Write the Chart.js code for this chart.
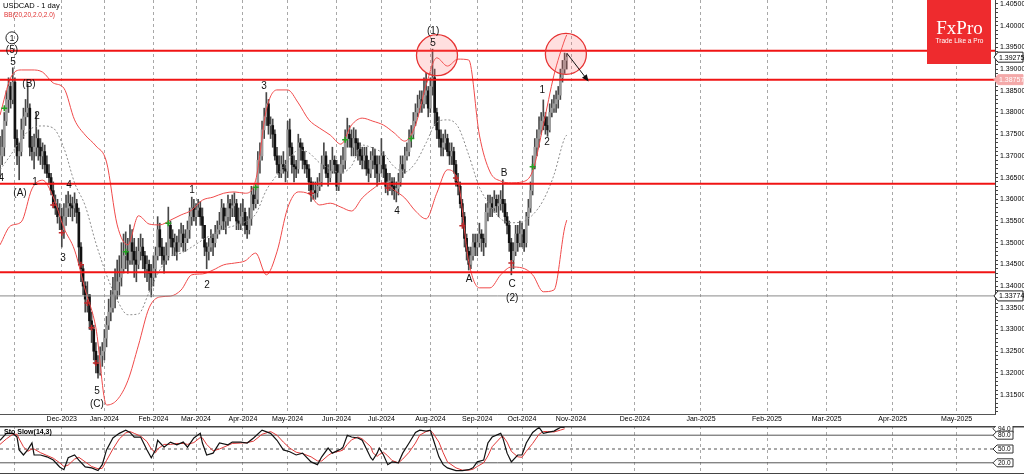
<!DOCTYPE html>
<html>
<head>
<meta charset="utf-8">
<script src="https://cdn.jsdelivr.net/npm/chart.js@4.4.1/dist/chart.umd.min.js"></script>
<style>
  body { margin: 0; background: #fff; }
  #wrap { position: relative; width: 1024px; height: 474px; overflow: hidden; background: #fff; }
  #mainBox { position: absolute; left: 0; top: 0; width: 1024px; height: 426px; }
  #stochBox { position: absolute; left: 0; top: 426px; width: 1024px; height: 48px; }
</style>
</head>
<body>
<div id="wrap">
  <div id="mainBox"><canvas id="mainChart"></canvas></div>
  <div id="stochBox"><canvas id="stochChart"></canvas></div>
</div>
<script>
// USDCAD daily bars, one value per trading day (late Oct 2023 .. end Oct 2024)
const firstOpen = 1.3680;
const closes = [
    1.3700, 1.3720, 1.3780, 1.3830, 1.3860, 1.3830, 1.3870,
    1.3740, 1.3700, 1.3710, 1.3760, 1.3790, 1.3800, 1.3810, 1.3720, 1.3710, 1.3720, 1.3740, 1.3720, 1.3700, 1.3710, 1.3680, 1.3660, 1.3650, 1.3620, 1.3590, 1.3580, 1.3560, 1.3560,
    1.3530, 1.3560, 1.3580, 1.3590, 1.3585, 1.3580, 1.3590, 1.3570, 1.3490, 1.3440, 1.3400, 1.3370, 1.3380, 1.3320, 1.3300, 1.3250, 1.3220, 1.3200, 1.3240, 1.3250,
    1.3280, 1.3310, 1.3340, 1.3350, 1.3380, 1.3390, 1.3410, 1.3420, 1.3440, 1.3470, 1.3480, 1.3460, 1.3500, 1.3480, 1.3460, 1.3450, 1.3480, 1.3490, 1.3470, 1.3440, 1.3450, 1.3430, 1.3420,
    1.3440, 1.3470, 1.3530, 1.3490, 1.3470, 1.3460, 1.3470, 1.3540, 1.3510, 1.3490, 1.3500, 1.3480, 1.3500, 1.3520, 1.3500, 1.3510, 1.3530, 1.3560, 1.3580, 1.3560, 1.3575,
    1.3580, 1.3560, 1.3540, 1.3490, 1.3480, 1.3490, 1.3510, 1.3500, 1.3520, 1.3530, 1.3540, 1.3580, 1.3550, 1.3560, 1.3590, 1.3580, 1.3585, 1.3590, 1.3550, 1.3545, 1.3560,
    1.3570, 1.3540, 1.3530, 1.3555, 1.3610, 1.3590, 1.3600, 1.3690, 1.3700, 1.3760, 1.3790, 1.3820, 1.3770, 1.3770, 1.3750, 1.3700, 1.3680, 1.3660, 1.3680, 1.3670, 1.3665, 1.3760,
    1.3720, 1.3680, 1.3675, 1.3670, 1.3730, 1.3720, 1.3690, 1.3680, 1.3670, 1.3640, 1.3610, 1.3620, 1.3615, 1.3630, 1.3640, 1.3680, 1.3700, 1.3660, 1.3650, 1.3665, 1.3690, 1.3680, 1.3630,
    1.3660, 1.3680, 1.3690, 1.3740, 1.3750, 1.3740, 1.3720, 1.3740, 1.3730, 1.3715, 1.3700, 1.3690, 1.3700, 1.3670, 1.3660, 1.3690, 1.3700, 1.3680, 1.3660, 1.3680,
    1.3700, 1.3670, 1.3630, 1.3640, 1.3640, 1.3630, 1.3620, 1.3625, 1.3640, 1.3680, 1.3670, 1.3700, 1.3710, 1.3740, 1.3750, 1.3780, 1.3800, 1.3810, 1.3830, 1.3820, 1.3840, 1.3850, 1.3810,
    1.3860, 1.3880, 1.3800, 1.3760, 1.3740, 1.3720, 1.3730, 1.3740, 1.3710, 1.3700, 1.3710, 1.3680, 1.3640, 1.3630, 1.3590, 1.3560, 1.3510, 1.3480, 1.3450, 1.3470, 1.3500, 1.3490,
    1.3500, 1.3520, 1.3510, 1.3500, 1.3570, 1.3580, 1.3590, 1.3580, 1.3600, 1.3585, 1.3590, 1.3600, 1.3590, 1.3560, 1.3540, 1.3500, 1.3460, 1.3480, 1.3520, 1.3500, 1.3520,
    1.3530, 1.3500, 1.3560, 1.3580, 1.3620, 1.3680, 1.3720, 1.3740, 1.3760, 1.3780, 1.3790, 1.3770, 1.3760, 1.3800, 1.3810, 1.3820, 1.3830, 1.3840, 1.3880, 1.3900, 1.3920, 1.39275
];
const highs = [
    1.3745, 1.3760, 1.3800, 1.3850, 1.3880, 1.3870, 1.3903,
    1.3880, 1.3760, 1.3730, 1.3785, 1.3810, 1.3830, 1.3866, 1.3820, 1.3745, 1.3750, 1.3800, 1.3760, 1.3740, 1.3730, 1.3725, 1.3700, 1.3680, 1.3660, 1.3640, 1.3610, 1.3600, 1.3590,
    1.3580, 1.3590, 1.3610, 1.3618, 1.3610, 1.3605, 1.3615, 1.3600, 1.3580, 1.3500, 1.3450, 1.3410, 1.3410, 1.3380, 1.3340, 1.3310, 1.3270, 1.3240, 1.3260, 1.3270,
    1.3300, 1.3330, 1.3370, 1.3390, 1.3420, 1.3440, 1.3460, 1.3470, 1.3500, 1.3520, 1.3525, 1.3510, 1.3541, 1.3530, 1.3510, 1.3490, 1.3510, 1.3520, 1.3510, 1.3480, 1.3470, 1.3460, 1.3450,
    1.3470, 1.3490, 1.3560, 1.3545, 1.3510, 1.3490, 1.3500, 1.3582, 1.3550, 1.3530, 1.3520, 1.3515, 1.3530, 1.3545, 1.3540, 1.3530, 1.3550, 1.3580, 1.3605, 1.3600, 1.3590,
    1.3600, 1.3595, 1.3580, 1.3540, 1.3500, 1.3510, 1.3530, 1.3520, 1.3540, 1.3550, 1.3570, 1.3600, 1.3590, 1.3580, 1.3610, 1.3600, 1.3610, 1.3615, 1.3600, 1.3580, 1.3590,
    1.3600, 1.3580, 1.3560, 1.3580, 1.3630, 1.3625, 1.3630, 1.3710, 1.3730, 1.3780, 1.3810, 1.3846, 1.3830, 1.3790, 1.3785, 1.3760, 1.3720, 1.3700, 1.3700, 1.3710, 1.3690, 1.3780,
    1.3785, 1.3730, 1.3700, 1.3690, 1.3750, 1.3740, 1.3730, 1.3710, 1.3690, 1.3680, 1.3650, 1.3640, 1.3640, 1.3650, 1.3660, 1.3700, 1.3730, 1.3710, 1.3680, 1.3690, 1.3720, 1.3700, 1.3690,
    1.3680, 1.3700, 1.3720, 1.3760, 1.3787, 1.3770, 1.3760, 1.3765, 1.3760, 1.3740, 1.3730, 1.3720, 1.3720, 1.3720, 1.3690, 1.3710, 1.3720, 1.3715, 1.3700, 1.3700,
    1.3740, 1.3710, 1.3680, 1.3660, 1.3660, 1.3650, 1.3650, 1.3640, 1.3660, 1.3700, 1.3700, 1.3720, 1.3730, 1.3760, 1.3770, 1.3800, 1.3820, 1.3840, 1.3850, 1.3850, 1.3880, 1.3890, 1.3860,
    1.3880, 1.3946, 1.3900, 1.3810, 1.3790, 1.3760, 1.3750, 1.3760, 1.3750, 1.3730, 1.3730, 1.3720, 1.3690, 1.3660, 1.3640, 1.3600, 1.3570, 1.3520, 1.3490, 1.3490, 1.3520, 1.3520,
    1.3520, 1.3545, 1.3530, 1.3520, 1.3590, 1.3610, 1.3610, 1.3605, 1.3620, 1.3610, 1.3610, 1.3620, 1.3645, 1.3600, 1.3570, 1.3550, 1.3510, 1.3500, 1.3540, 1.3540, 1.3550,
    1.3545, 1.3530, 1.3570, 1.3600, 1.3640, 1.3700, 1.3740, 1.3760, 1.3790, 1.3800, 1.3829, 1.3800, 1.3790, 1.3820, 1.3830, 1.3840, 1.3850, 1.3860, 1.3900, 1.3920, 1.3937, 1.3935
];
const lows = [
    1.3650, 1.3680, 1.3700, 1.3770, 1.3800, 1.3810, 1.3820,
    1.3720, 1.3680, 1.3645, 1.3700, 1.3740, 1.3770, 1.3790, 1.3700, 1.3690, 1.3670, 1.3700, 1.3690, 1.3680, 1.3670, 1.3660, 1.3650, 1.3635, 1.3610, 1.3580, 1.3565, 1.3545, 1.3530,
    1.3490, 1.3510, 1.3540, 1.3560, 1.3560, 1.3550, 1.3560, 1.3545, 1.3450, 1.3410, 1.3380, 1.3340, 1.3340, 1.3300, 1.3270, 1.3230, 1.3200, 1.3188, 1.3195, 1.3215,
    1.3230, 1.3260, 1.3300, 1.3320, 1.3340, 1.3350, 1.3370, 1.3380, 1.3400, 1.3430, 1.3440, 1.3430, 1.3450, 1.3450, 1.3420, 1.3410, 1.3440, 1.3460, 1.3440, 1.3420, 1.3410, 1.3390, 1.3375,
    1.3400, 1.3420, 1.3460, 1.3470, 1.3450, 1.3430, 1.3450, 1.3460, 1.3490, 1.3470, 1.3470, 1.3460, 1.3480, 1.3490, 1.3480, 1.3480, 1.3500, 1.3510, 1.3540, 1.3550, 1.3540,
    1.3560, 1.3540, 1.3510, 1.3470, 1.3440, 1.3460, 1.3480, 1.3470, 1.3490, 1.3510, 1.3520, 1.3530, 1.3530, 1.3520, 1.3540, 1.3550, 1.3560, 1.3560, 1.3530, 1.3530, 1.3530,
    1.3540, 1.3520, 1.3510, 1.3520, 1.3540, 1.3575, 1.3580, 1.3590, 1.3660, 1.3690, 1.3740, 1.3770, 1.3750, 1.3740, 1.3720, 1.3690, 1.3660, 1.3650, 1.3650, 1.3660, 1.3640, 1.3650,
    1.3700, 1.3660, 1.3640, 1.3650, 1.3660, 1.3690, 1.3670, 1.3660, 1.3650, 1.3620, 1.3595, 1.3600, 1.3600, 1.3605, 1.3620, 1.3630, 1.3670, 1.3650, 1.3630, 1.3640, 1.3660, 1.3660, 1.3620,
    1.3620, 1.3640, 1.3660, 1.3670, 1.3720, 1.3720, 1.3700, 1.3700, 1.3700, 1.3690, 1.3680, 1.3670, 1.3670, 1.3655, 1.3640, 1.3650, 1.3670, 1.3650, 1.3630, 1.3640,
    1.3660, 1.3650, 1.3615, 1.3610, 1.3620, 1.3610, 1.3600, 1.3594, 1.3610, 1.3630, 1.3650, 1.3660, 1.3690, 1.3700, 1.3720, 1.3740, 1.3770, 1.3790, 1.3800, 1.3800, 1.3810, 1.3820, 1.3790,
    1.3800, 1.3840, 1.3770, 1.3740, 1.3720, 1.3700, 1.3700, 1.3715, 1.3700, 1.3680, 1.3680, 1.3660, 1.3630, 1.3610, 1.3580, 1.3540, 1.3490, 1.3460, 1.3437, 1.3440, 1.3460, 1.3470,
    1.3470, 1.3490, 1.3480, 1.3470, 1.3490, 1.3550, 1.3560, 1.3560, 1.3570, 1.3570, 1.3560, 1.3575, 1.3570, 1.3545, 1.3520, 1.3480, 1.3426, 1.3440, 1.3470, 1.3480, 1.3490,
    1.3490, 1.3480, 1.3490, 1.3540, 1.3570, 1.3610, 1.3670, 1.3700, 1.3720, 1.3750, 1.3760, 1.3750, 1.3745, 1.3755, 1.3790, 1.3800, 1.3800, 1.3810, 1.3830, 1.3870, 1.3890, 1.3900
];

// month grid (bar index where each month starts) and labels
const monthTicks = [7, 29, 49, 72, 92, 114, 135, 158, 179, 202, 224, 245, 268, 298, 329, 360, 388, 419, 449];
const monthLabels = ['', 'Dec-2023', 'Jan-2024', 'Feb-2024', 'Mar-2024', 'Apr-2024', 'May-2024', 'Jun-2024', 'Jul-2024', 'Aug-2024', 'Sep-2024', 'Oct-2024', 'Nov-2024', 'Dec-2024', 'Jan-2025', 'Feb-2025', 'Mar-2025', 'Apr-2025', 'May-2025'];

// Bollinger bands read every 5 bars
const bbIndex = [0, 5, 10, 15, 20, 25, 30, 35, 40, 45, 50, 55, 60, 65, 70, 75, 80, 85, 90, 95, 100, 105, 110, 115, 120, 125, 130, 135, 140, 145, 150, 155, 160, 165, 170, 175, 180, 185, 190, 195, 200, 205, 210, 215, 220, 225, 230, 235, 240, 245, 250, 255, 260, 265, 266];
const bbUpper = [1.3794, 1.3880, 1.3898, 1.3898, 1.3893, 1.3868, 1.3856, 1.3783, 1.3748, 1.3723,
    1.3686, 1.3541, 1.3495, 1.3562, 1.3543, 1.3541, 1.3552, 1.3564, 1.3575, 1.3598,
    1.3605, 1.3614, 1.3617, 1.3614, 1.3644, 1.3806, 1.3852, 1.3852, 1.3822, 1.3783,
    1.3764, 1.3748, 1.3727, 1.3771, 1.3787, 1.3780, 1.3771, 1.3753, 1.3734, 1.3771,
    1.3863, 1.3926, 1.3907, 1.3923, 1.3921, 1.3748, 1.3663, 1.3642, 1.3638, 1.3640,
    1.3665, 1.3771, 1.3886, 1.3967, 1.3979];
const bbMiddle = [1.3668, 1.3702, 1.3739, 1.3764, 1.3769, 1.3764, 1.3718, 1.3638, 1.3585, 1.3499,
    1.3426, 1.3368, 1.3334, 1.3336, 1.3386, 1.3437, 1.3469, 1.3476, 1.3490, 1.3506,
    1.3520, 1.3532, 1.3539, 1.3548, 1.3566, 1.3621, 1.3656, 1.3686, 1.3714, 1.3707,
    1.3684, 1.3670, 1.3661, 1.3677, 1.3725, 1.3718, 1.3705, 1.3675, 1.3663, 1.3684,
    1.3730, 1.3778, 1.3783, 1.3767, 1.3702, 1.3628, 1.3587, 1.3555, 1.3546, 1.3548,
    1.3564, 1.3598, 1.3656, 1.3741, 1.3748];
const bbLower = [1.3495, 1.3539, 1.3548, 1.3624, 1.3644, 1.3605, 1.3534, 1.3483, 1.3391, 1.3304,
    1.3126, 1.3138, 1.3182, 1.3264, 1.3350, 1.3375, 1.3377, 1.3391, 1.3426, 1.3428,
    1.3437, 1.3449, 1.3453, 1.3458, 1.3476, 1.3426, 1.3479, 1.3580, 1.3617, 1.3612,
    1.3587, 1.3591, 1.3582, 1.3573, 1.3603, 1.3624, 1.3638, 1.3621, 1.3603, 1.3573,
    1.3555, 1.3614, 1.3668, 1.3640, 1.3456, 1.3396, 1.3396, 1.3426, 1.3444, 1.3442,
    1.3426, 1.3387, 1.3391, 1.3534, 1.3552];

// horizontal levels
const redLevels = [1.3942, 1.38757, 1.3636, 1.3432];
const greyLevel = 1.33774;

// band-cross markers (bar index, price)
const upMarkIdx = [2, 59, 79, 120, 162, 193, 250];
const upMarkPrice = [1.3810, 1.3479, 1.3545, 1.3628, 1.3737, 1.3740, 1.3675];
const downMarkIdx = [25, 29, 38, 41, 43, 45, 146, 182, 214, 217, 240];
const downMarkPrice = [1.3587, 1.3523, 1.3449, 1.3361, 1.3304, 1.3223, 1.3614, 1.3626, 1.3649, 1.3539, 1.3453];

// Elliott wave labels
const waveText = ['(5)', '5', '(B)', '2', '(A)', '1', '4', '4', '3', '5', '(C)', '1', '2', '3', '4', '(1)', '5', 'A', 'B', 'C', '(2)', '1', '2'];
const waveIdx = [5.6, 6.1, 13.6, 17.4, 9.4, 16.4, 0.6, 32.4, 29.6, 45.5, 45.5, 90.1, 97.2, 123.9, 186.4, 203.3, 203.3, 220.2, 236.6, 240.4, 240.4, 254.5, 256.8];
const wavePrice = [1.3944, 1.3916, 1.3866, 1.3792, 1.3615, 1.3640, 1.3649, 1.3633, 1.3465, 1.3158, 1.3128, 1.3621, 1.3403, 1.3861, 1.3573, 1.3988, 1.3960, 1.3416, 1.3661, 1.3405, 1.3373, 1.3852, 1.3732];
const circledLabel = { text: '1', idx: 5.6, price: 1.3972 };

// highlight circles and projection arrow
const zoneIdx = [205.1, 265.6];
const zonePrice = [1.3932, 1.3935];
const arrowFrom = [266, 1.3937];
const arrowTo = [275.7, 1.3875];

// boxed prices on the axis
const axisBoxPrices = [1.39275, 1.38757, 1.33774];

// stochastic slow (14,3)
const stochIdx = [0, 3, 6, 8, 9, 11, 13, 15, 16, 19, 22, 25, 28, 30, 32, 35, 37, 40, 43, 46,
    48, 50, 53, 56, 59, 61, 63, 66, 69, 71, 73, 74, 77, 80, 83, 86, 88, 91, 94, 95,
    97, 100, 103, 107, 109, 113, 116, 119, 123, 127, 130, 133, 136, 139, 142, 146, 149, 151, 154, 156,
    160, 161, 163, 165, 168, 170, 174, 175, 177, 178, 180, 182, 184, 187, 189, 192, 195, 197, 200, 202,
    203, 206, 208, 210, 214, 217, 220, 222, 224, 227, 229, 231, 235, 236, 238, 240, 243, 245, 247, 250,
    253, 255, 257, 260, 263, 265];
const stochMain = [69, 84, 84, 76, 48, 37, 48, 63, 37, 37, 33, 26, 11, 5, 31, 37, 26, 11, 9, 3,
    16, 48, 74, 84, 91, 86, 76, 76, 48, 31, 48, 69, 54, 65, 59, 65, 54, 74, 84, 63,
    37, 41, 63, 59, 65, 65, 63, 74, 91, 84, 69, 48, 44, 37, 41, 22, 16, 33, 52, 41,
    50, 54, 80, 76, 74, 69, 31, 26, 41, 52, 37, 16, 22, 20, 41, 63, 86, 91, 89, 91,
    76, 33, 16, 9, 3, 3, 5, 9, 22, 26, 63, 76, 84, 74, 41, 22, 37, 37, 63, 86,
    97, 84, 86, 89, 97, 97];
const stochSignal = [60, 72, 82, 82, 72, 55, 45, 50, 50, 42, 36, 30, 20, 12, 15, 28, 32, 22, 12, 7,
    8, 25, 50, 72, 85, 88, 84, 78, 66, 50, 42, 50, 60, 60, 62, 62, 60, 64, 75, 74,
    60, 46, 50, 58, 62, 63, 64, 67, 82, 88, 80, 65, 52, 43, 40, 33, 24, 24, 36, 42,
    46, 48, 60, 70, 76, 72, 55, 42, 34, 38, 43, 35, 25, 20, 28, 43, 63, 80, 88, 90,
    86, 65, 42, 22, 9, 4, 4, 6, 12, 20, 35, 55, 75, 78, 65, 45, 33, 32, 45, 62,
    82, 88, 88, 87, 91, 94];
const stochLevels = [80, 50, 20];
const stochBoxes = ['94.0', '80.0', '50.0', '20.0'];
const stochBoxValues = [94, 80, 50, 20];

const X_MAX = 467;
const Y_MIN = 1.31053;
const Y_MAX = 1.40592;
const FONT = 'Liberation Sans, Arial, sans-serif';

Chart.defaults.font.family = FONT;
Chart.defaults.color = '#000';

const opens = closes.map((c, i) => (i === 0 ? firstOpen : closes[i - 1]));

function noPadding(scale) {
    scale.paddingLeft = 0;
    scale.paddingRight = 0;
    scale.paddingTop = 0;
    scale.paddingBottom = 0;
}

function sharedX(showLabels) {
    return {
        type: 'linear',
        min: 0,
        max: X_MAX,
        offset: false,
        afterBuildTicks: (scale) => {
            scale.ticks = monthTicks.map(v => ({ value: v }));
        },
        afterFit: (scale) => {
            scale.height = showLabels ? 12 : 0;
            noPadding(scale);
        },
        ticks: {
            display: showLabels,
            autoSkip: false,
            maxRotation: 0,
            padding: 1,
            font: { size: 7 },
            callback: (v) => {
                const k = monthTicks.indexOf(v);
                return k >= 0 ? monthLabels[k] : '';
            }
        },
        grid: { color: '#a8a8a8', drawTicks: false, offset: false, lineWidth: 1 },
        border: { display: false, dash: [3, 3] }
    };
}

function hLine(level, color, width, dash, order) {
    return {
        type: 'line',
        data: [{ x: 0, y: level }, { x: X_MAX, y: level }],
        borderColor: color,
        borderWidth: width,
        borderDash: dash,
        pointRadius: 0,
        order: order
    };
}

function drawAxisBox(ctx, x, y, text, fill, stroke, color) {
    ctx.beginPath();
    ctx.moveTo(x, y);
    ctx.lineTo(x + 4, y - 5);
    ctx.lineTo(x + 29, y - 5);
    ctx.lineTo(x + 29, y + 5);
    ctx.lineTo(x + 4, y + 5);
    ctx.closePath();
    ctx.fillStyle = fill;
    ctx.fill();
    ctx.strokeStyle = stroke;
    ctx.lineWidth = 1;
    ctx.stroke();
    ctx.fillStyle = color;
    ctx.font = '7px ' + FONT;
    ctx.textAlign = 'left';
    ctx.textBaseline = 'middle';
    ctx.fillText(text, x + 5, y + 0.5);
}

const mainOverlay = {
    id: 'mainOverlay',
    afterDatasetsDraw(chart) {
        const { ctx, chartArea, scales: { x, y } } = chart;
        ctx.save();

        // highlight circles
        zoneIdx.forEach((idx, k) => {
            ctx.beginPath();
            ctx.arc(x.getPixelForValue(idx), y.getPixelForValue(zonePrice[k]), 20.5, 0, Math.PI * 2);
            ctx.fillStyle = 'rgba(255, 110, 110, 0.22)';
            ctx.fill();
            ctx.strokeStyle = '#e63232';
            ctx.lineWidth = 1.3;
            ctx.stroke();
        });

        // projection arrow
        const ax = x.getPixelForValue(arrowFrom[0]), ay = y.getPixelForValue(arrowFrom[1]);
        const bx = x.getPixelForValue(arrowTo[0]), by = y.getPixelForValue(arrowTo[1]);
        ctx.strokeStyle = '#111';
        ctx.lineWidth = 1;
        ctx.beginPath();
        ctx.moveTo(ax, ay);
        ctx.lineTo(bx, by);
        ctx.stroke();
        const ang = Math.atan2(by - ay, bx - ax);
        ctx.fillStyle = '#111';
        ctx.beginPath();
        ctx.moveTo(bx + 2 * Math.cos(ang), by + 2 * Math.sin(ang));
        ctx.lineTo(bx - 5 * Math.cos(ang) + 3 * Math.sin(ang), by - 5 * Math.sin(ang) - 3 * Math.cos(ang));
        ctx.lineTo(bx - 5 * Math.cos(ang) - 3 * Math.sin(ang), by - 5 * Math.sin(ang) + 3 * Math.cos(ang));
        ctx.closePath();
        ctx.fill();

        // wave labels
        ctx.fillStyle = '#111';
        ctx.font = '10px ' + FONT;
        ctx.textAlign = 'center';
        ctx.textBaseline = 'middle';
        waveText.forEach((t, k) => {
            ctx.fillText(t, x.getPixelForValue(waveIdx[k]), y.getPixelForValue(wavePrice[k]));
        });
        const cx = x.getPixelForValue(circledLabel.idx), cy = y.getPixelForValue(circledLabel.price);
        ctx.beginPath();
        ctx.arc(cx, cy, 6, 0, Math.PI * 2);
        ctx.strokeStyle = '#111';
        ctx.lineWidth = 0.9;
        ctx.stroke();
        ctx.font = '9px ' + FONT;
        ctx.fillText(circledLabel.text, cx, cy + 0.5);

        // frame of the price panel
        ctx.strokeStyle = '#555';
        ctx.lineWidth = 1;
        ctx.beginPath();
        ctx.moveTo(0, chartArea.bottom + 0.5);
        ctx.lineTo(chartArea.right + 0.5, chartArea.bottom + 0.5);
        ctx.stroke();
        ctx.restore();
    },
    afterDraw(chart) {
        const { ctx, chartArea, scales: { y } } = chart;
        ctx.save();
        // titles
        ctx.textAlign = 'left';
        ctx.textBaseline = 'middle';
        ctx.fillStyle = '#000';
        ctx.font = '7.5px ' + FONT;
        ctx.fillText('USDCAD - 1 day', 3, 6);
        ctx.fillStyle = '#e03030';
        ctx.font = '6.5px ' + FONT;
        ctx.fillText('BB(20,20,2.0,2.0)', 4, 15.5);

        // FxPro badge
        ctx.fillStyle = '#ee2b2e';
        ctx.fillRect(927, 0, 64, 64);
        ctx.fillStyle = '#fff';
        ctx.textAlign = 'center';
        ctx.font = '19px Liberation Serif, DejaVu Serif, serif';
        ctx.fillText('FxPro', 959.5, 29);
        ctx.font = '6.5px ' + FONT;
        ctx.fillText('Trade Like a Pro', 959.5, 41);

        // boxed prices
        const bx = chartArea.right - 1;
        drawAxisBox(ctx, bx, y.getPixelForValue(axisBoxPrices[0]), axisBoxPrices[0].toFixed(5), '#fff', '#222', '#000');
        drawAxisBox(ctx, bx, y.getPixelForValue(axisBoxPrices[1]), axisBoxPrices[1].toFixed(5), '#f4a9a9', '#f4a9a9', '#fff');
        drawAxisBox(ctx, bx, y.getPixelForValue(axisBoxPrices[2]), axisBoxPrices[2].toFixed(5), '#fff', '#222', '#000');
        ctx.restore();
    }
};

const mainDatasets = [
    {
        type: 'bar',
        data: closes.map((c, i) => ({ x: i, y: [lows[i], highs[i]] })),
        backgroundColor: '#474747',
        barThickness: 1,
        grouped: false,
        order: 10
    },
    {
        type: 'bar',
        data: closes.map((c, i) => ({ x: i, y: [opens[i], c] })),
        backgroundColor: (ctx) => (closes[ctx.dataIndex] >= opens[ctx.dataIndex] ? '#9c9c9c' : '#111111'),
        barThickness: 2,
        minBarLength: 1,
        grouped: false,
        order: 9
    },
    {
        type: 'line',
        data: bbIndex.map((v, k) => ({ x: v, y: bbUpper[k] })),
        borderColor: '#f04a4a',
        borderWidth: 1,
        pointRadius: 0,
        cubicInterpolationMode: 'monotone',
        order: 5
    },
    {
        type: 'line',
        data: bbIndex.map((v, k) => ({ x: v, y: bbMiddle[k] })),
        borderColor: '#8c8c8c',
        borderWidth: 1,
        borderDash: [2, 2],
        pointRadius: 0,
        cubicInterpolationMode: 'monotone',
        order: 5
    },
    {
        type: 'line',
        data: bbIndex.map((v, k) => ({ x: v, y: bbLower[k] })),
        borderColor: '#f04a4a',
        borderWidth: 1,
        pointRadius: 0,
        cubicInterpolationMode: 'monotone',
        order: 5
    },
    ...redLevels.map(v => hLine(v, '#f01414', 2, [], 3)),
    hLine(greyLevel, '#8a8a8a', 1, [], 3),
    {
        type: 'line',
        data: upMarkIdx.map((v, k) => ({ x: v, y: upMarkPrice[k] })),
        showLine: false,
        pointStyle: 'cross',
        pointRadius: 3,
        pointBorderWidth: 1.5,
        pointBorderColor: '#22a022',
        order: 1
    },
    {
        type: 'line',
        data: downMarkIdx.map((v, k) => ({ x: v, y: downMarkPrice[k] })),
        showLine: false,
        pointStyle: 'cross',
        pointRadius: 3,
        pointBorderWidth: 1.5,
        pointBorderColor: '#c0282a',
        order: 1
    }
];

new Chart(document.getElementById('mainChart'), {
    type: 'bar',
    data: { datasets: mainDatasets },
    options: {
        responsive: true,
        maintainAspectRatio: false,
        animation: false,
        events: [],
        layout: { padding: 0, autoPadding: false },
        plugins: { legend: { display: false }, tooltip: { enabled: false } },
        scales: {
            x: sharedX(true),
            y: {
                type: 'linear',
                position: 'right',
                min: Y_MIN,
                max: Y_MAX,
                afterBuildTicks: (scale) => {
                    const t = [];
                    for (let k = 1311; k <= 1405; k++) t.push({ value: k / 1000 });
                    scale.ticks = t;
                },
                afterFit: (scale) => { scale.width = 29; noPadding(scale); },
                ticks: {
                    autoSkip: false,
                    padding: 2,
                    font: { size: 7 },
                    callback: (v) => {
                        const k = Math.round(v * 1000);
                        return k % 5 === 0 ? v.toFixed(5) : '';
                    }
                },
                grid: { drawOnChartArea: false, tickLength: 3, color: '#444' },
                border: { display: true, color: '#444' }
            }
        }
    },
    plugins: [mainOverlay]
});

const stochOverlay = {
    id: 'stochOverlay',
    afterDraw(chart) {
        const { ctx, chartArea, scales: { y } } = chart;
        ctx.save();
        ctx.strokeStyle = '#444';
        ctx.lineWidth = 1.5;
        ctx.beginPath();
        ctx.moveTo(0, 0.75);
        ctx.lineTo(1024, 0.75);
        ctx.stroke();
        ctx.lineWidth = 1;
        ctx.beginPath();
        ctx.moveTo(0, 47.5);
        ctx.lineTo(1024, 47.5);
        ctx.stroke();

        ctx.fillStyle = '#000';
        ctx.font = 'bold 7px ' + FONT;
        ctx.textAlign = 'left';
        ctx.textBaseline = 'middle';
        ctx.fillText('Sto Slow(14,3)', 4, 6.5);

        stochBoxes.forEach((t, k) => {
            const yy = Math.min(y.getPixelForValue(stochBoxValues[k]), 45);
            ctx.beginPath();
            ctx.moveTo(chartArea.right - 2, yy);
            ctx.lineTo(chartArea.right + 2, yy - 4);
            ctx.lineTo(chartArea.right + 18, yy - 4);
            ctx.lineTo(chartArea.right + 18, yy + 4);
            ctx.lineTo(chartArea.right + 2, yy + 4);
            ctx.closePath();
            ctx.fillStyle = '#fff';
            ctx.fill();
            ctx.strokeStyle = '#333';
            ctx.stroke();
            ctx.fillStyle = '#000';
            ctx.font = '6.5px ' + FONT;
            ctx.fillText(t, chartArea.right + 3, yy + 0.5);
        });
        ctx.restore();
    }
};

new Chart(document.getElementById('stochChart'), {
    type: 'line',
    data: {
        datasets: [
            ...stochLevels.map(v => hLine(v, '#555', 1, v === 50 ? [3, 3] : [], 5)),
            {
                data: stochIdx.map((v, k) => ({ x: v, y: stochSignal[k] })),
                borderColor: '#e03a3a',
                borderWidth: 1,
                pointRadius: 0,
                order: 2
            },
            {
                data: stochIdx.map((v, k) => ({ x: v, y: stochMain[k] })),
                borderColor: '#111',
                borderWidth: 1.2,
                pointRadius: 0,
                order: 1
            }
        ]
    },
    options: {
        responsive: true,
        maintainAspectRatio: false,
        animation: false,
        events: [],
        layout: { padding: { top: 0, bottom: 2 }, autoPadding: false },
        plugins: { legend: { display: false }, tooltip: { enabled: false } },
        scales: {
            x: sharedX(false),
            y: {
                type: 'linear',
                position: 'right',
                min: 0,
                max: 100,
                afterFit: (scale) => { scale.width = 29; noPadding(scale); },
                ticks: { display: false },
                grid: { display: false },
                border: { display: false }
            }
        }
    },
    plugins: [stochOverlay]
});
</script>
</body>
</html>
